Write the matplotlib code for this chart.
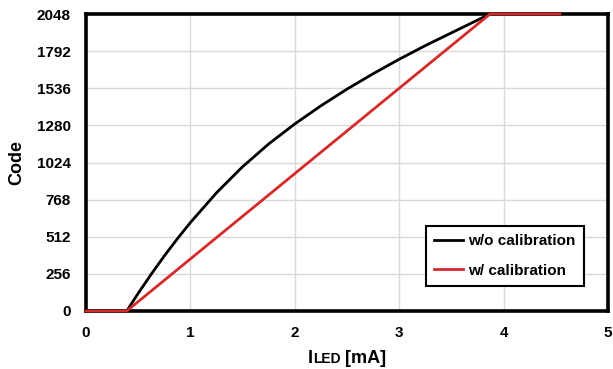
import matplotlib
matplotlib.use("Agg")
import matplotlib.pyplot as plt
from matplotlib.offsetbox import TextArea, HPacker, AnchoredOffsetbox

plt.rcParams['font.family'] = ['Liberation Sans', 'DejaVu Sans']
plt.rcParams['font.weight'] = 'bold'

# Data
x_wo = [0, 0.39, 0.5, 0.625, 0.75, 0.875, 1.0, 1.25, 1.5, 1.75, 2.0, 2.25, 2.5, 2.75,
        3.0, 3.25, 3.5, 3.87, 4.54]
y_wo = [0, 0, 122, 254, 380, 498, 610, 815, 995, 1152, 1290, 1415, 1530, 1636,
        1736, 1830, 1918, 2048, 2048]
x_w = [0, 0.39, 3.87, 4.54]
y_w = [0, 0, 2048, 2048]
xticks = [0, 1, 2, 3, 4, 5]
yticks = [0, 256, 512, 768, 1024, 1280, 1536, 1792, 2048]
labels = ['w/o calibration', 'w/ calibration']

fig = plt.figure(figsize=(6.13, 3.69), dpi=100)
ax = fig.add_axes([86/613, 1-311/369, (608-86)/613, (311-14)/369])

ax.plot(x_wo, y_wo, color='black', lw=2.0, label=labels[0], zorder=3, clip_on=False,
        solid_joinstyle='round')
ax.plot(x_w, y_w, color='#d42a2a', lw=2.0, label=labels[1], zorder=4, clip_on=False)

ax.set_xlim(0, 5)
ax.set_ylim(0, 2048)
ax.set_xticks(xticks)
ax.set_yticks(yticks)
ax.grid(True, color='#d9d9d9', lw=1.0)
ax.set_axisbelow(True)
ax.tick_params(length=0, labelsize=11)
ax.tick_params(axis='y', pad=11)
ax.tick_params(axis='x', pad=11)
for lab in ax.get_xticklabels() + ax.get_yticklabels():
    lab.set_fontweight('bold')
for s in ax.spines.values():
    s.set_linewidth(2.6)
    s.set_color('black')
    s.set_zorder(2.5)

ax.set_ylabel('Code', fontsize=13, fontweight='bold', labelpad=8)

# x label: I + small caps LED + [mA]
t1 = TextArea('I', textprops=dict(fontsize=13, fontweight='bold'))
t2 = TextArea('LED', textprops=dict(fontsize=10, fontweight='bold'))
t3 = TextArea(' [mA]', textprops=dict(fontsize=13, fontweight='bold'))
box = HPacker(children=[t1, t2, t3], align='baseline', pad=0, sep=0)
anch = AnchoredOffsetbox(loc='upper center', child=box, pad=0, frameon=False,
                         bbox_to_anchor=(0.5, -0.13), bbox_transform=ax.transAxes,
                         borderpad=0)
ax.add_artist(anch)

leg = ax.legend(loc='upper left', bbox_to_anchor=(0.651, 0.286), borderaxespad=0,
                handlelength=1.9, handletextpad=0.33, labelspacing=1.0,
                borderpad=0.55, fancybox=False, framealpha=1, edgecolor='black',
                prop=dict(weight='bold', size=11))
leg.get_frame().set_linewidth(1.5)

fig.savefig('out.png', dpi=100)
